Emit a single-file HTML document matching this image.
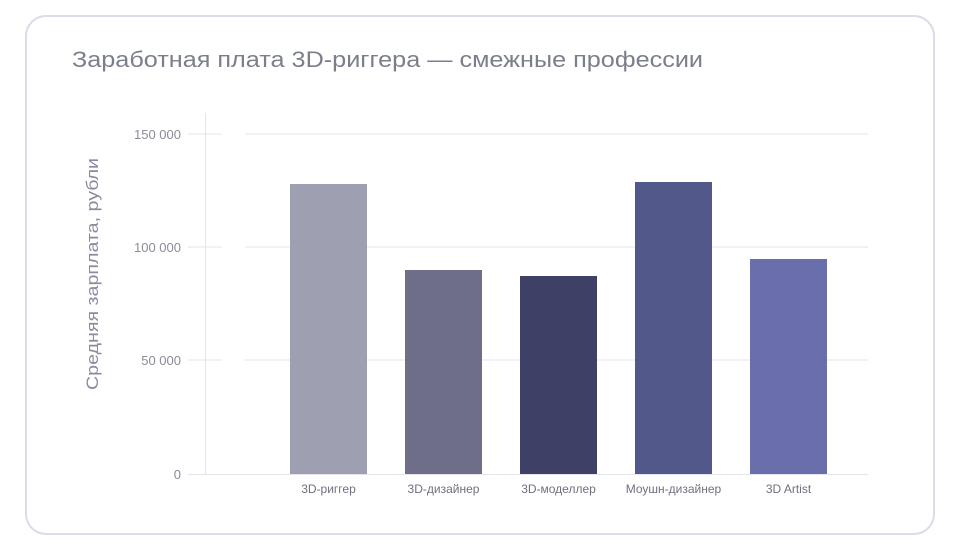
<!DOCTYPE html>
<html><head><meta charset="utf-8"><style>
html,body{margin:0;padding:0;background:#fff;}
svg{display:block;font-family:"Liberation Sans","DejaVu Sans",sans-serif;}
</style></head><body>
<svg width="961" height="550" viewBox="0 0 961 550" xmlns="http://www.w3.org/2000/svg">
<rect x="26" y="16" width="908" height="518" rx="20" ry="20" fill="#fff" stroke="#dcdbe8" stroke-width="2"/>
<text x="72" y="67" font-size="22" fill="#7b7f8c" textLength="631" lengthAdjust="spacingAndGlyphs">Заработная плата 3D-риггера — смежные профессии</text>
<g stroke="#e4e4ee" stroke-width="1">
<line x1="188" y1="134" x2="222" y2="134"/><line x1="245" y1="134" x2="868" y2="134"/>
<line x1="188" y1="247" x2="222" y2="247"/><line x1="245" y1="247" x2="868" y2="247"/>
<line x1="188" y1="360" x2="222" y2="360"/><line x1="245" y1="360" x2="868" y2="360"/>
<line x1="188" y1="474.5" x2="868" y2="474.5"/>
<line x1="205.5" y1="113" x2="205.5" y2="474"/>
</g>
<g font-size="13" fill="#8a8c98" text-anchor="end">
<text x="181" y="139">150 000</text>
<text x="181" y="252">100 000</text>
<text x="181" y="365">50 000</text>
<text x="181" y="479">0</text>
</g>
<text transform="translate(98,274) rotate(-90)" font-size="17" fill="#8a8aa0" text-anchor="middle" textLength="232" lengthAdjust="spacingAndGlyphs">Средняя зарплата, рубли</text>
<rect x="290" y="184" width="77" height="290" fill="#9f9fb2"/>
<rect x="405" y="270" width="77" height="204" fill="#6e6e88"/>
<rect x="520" y="276" width="77" height="198" fill="#3e4066"/>
<rect x="635" y="182" width="77" height="292" fill="#52588a"/>
<rect x="750" y="259" width="77" height="215" fill="#6a6fab"/>
<g font-size="12" fill="#6e7080" text-anchor="middle">
<text x="328.5" y="493">3D-риггер</text>
<text x="443.5" y="493">3D-дизайнер</text>
<text x="558.5" y="493">3D-моделлер</text>
<text x="673.5" y="493">Моушн-дизайнер</text>
<text x="788.5" y="493">3D Artist</text>
</g>
</svg>
</body></html>
